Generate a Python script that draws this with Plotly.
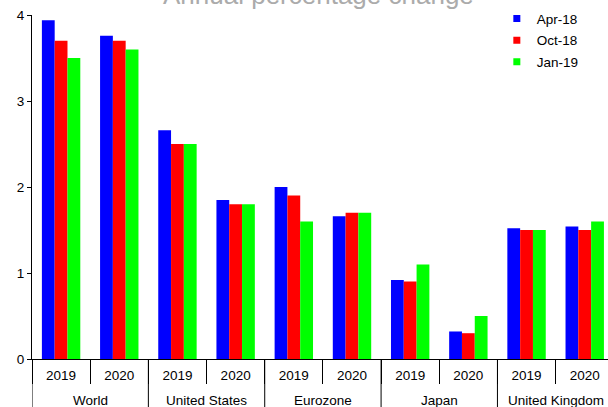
import plotly.graph_objects as go

# Economies and forecast years
regions = ["World", "United States", "Eurozone", "Japan", "United Kingdom"]
years = ["2019", "2020"]

# GDP growth forecasts (annual % change) by forecast vintage
apr18 = [3.94, 3.76, 2.66, 1.85, 2.00, 1.66, 0.92, 0.32, 1.52, 1.54]
oct18 = [3.70, 3.70, 2.50, 1.80, 1.90, 1.70, 0.90, 0.30, 1.50, 1.50]
jan19 = [3.50, 3.60, 2.50, 1.80, 1.60, 1.70, 1.10, 0.50, 1.50, 1.60]

series = [("Apr-18", apr18, "#0000ff"),
          ("Oct-18", oct18, "#ff0000"),
          ("Jan-19", jan19, "#00ff00")]

# one category per region/year pair, labelled with the year only
x_keys = [f"{r} {y}" for r in regions for y in years]
x_text = [y for _ in regions for y in years]

FONT = "Liberation Sans, Arial, sans-serif"
LABEL_SIZE = 13.5

fig = go.Figure()
for name, vals, color in series:
    fig.add_trace(go.Bar(
        x=x_keys, y=vals, name=name,
        marker=dict(color=color, line=dict(width=0)),
        showlegend=False,
    ))
    # small square legend key
    fig.add_trace(go.Scatter(
        x=[None], y=[None], mode="markers", name=name, legendgroup=name,
        marker=dict(symbol="square", size=7, color=color),
        showlegend=True, hoverinfo="skip",
    ))

# region labels below the year labels, and divider lines between regions
n_years = len(years)
annotations = []
shapes = []
for i, region in enumerate(regions):
    annotations.append(dict(
        text=region, xref="x", yref="paper",
        x=i * n_years + (n_years - 1) / 2, y=0, yshift=-41,
        xanchor="center", yanchor="middle", showarrow=False,
        font=dict(size=LABEL_SIZE, color="black", family=FONT),
    ))
    shapes.append(dict(
        type="line", xref="x", yref="paper",
        x0=i * n_years - 0.5, x1=i * n_years - 0.5, y0=0, y1=-0.16,
        line=dict(color="black", width=1),
    ))

annotations.append(dict(
    text="Annual percentage change", xref="paper", yref="paper",
    x=0.497, y=1, xanchor="center", yanchor="bottom", yshift=3,
    showarrow=False, font=dict(size=26, color="#ababab", family=FONT),
))

fig.update_layout(
    width=608, height=407,
    margin=dict(l=32, r=0, t=15, b=48),
    paper_bgcolor="white", plot_bgcolor="white",
    font=dict(family=FONT, size=LABEL_SIZE, color="black"),
    barmode="group", bargap=0.34, bargroupgap=0,
    legend=dict(x=0.807, xanchor="left", y=1.034, yanchor="top",
                bgcolor="rgba(0,0,0,0)", itemwidth=30,
                traceorder="grouped", tracegroupgap=1,
                font=dict(size=LABEL_SIZE, color="black")),
    annotations=annotations,
    shapes=shapes,
)

fig.update_yaxes(
    range=[0, 4], tickvals=[0, 1, 2, 3, 4],
    showline=True, linecolor="black", linewidth=1,
    ticks="outside", ticklen=4, tickcolor="black",
    showgrid=False, zeroline=False,
)
fig.update_xaxes(
    type="category", range=[-0.5, len(x_keys) - 0.6],
    tickvals=x_keys, ticktext=x_text,
    showline=True, linecolor="black", linewidth=1,
    ticks="outside", tickson="boundaries", ticklen=24, tickcolor="black",
    ticklabelstandoff=4,
    showgrid=False,
)

fig.write_html("out.html")
